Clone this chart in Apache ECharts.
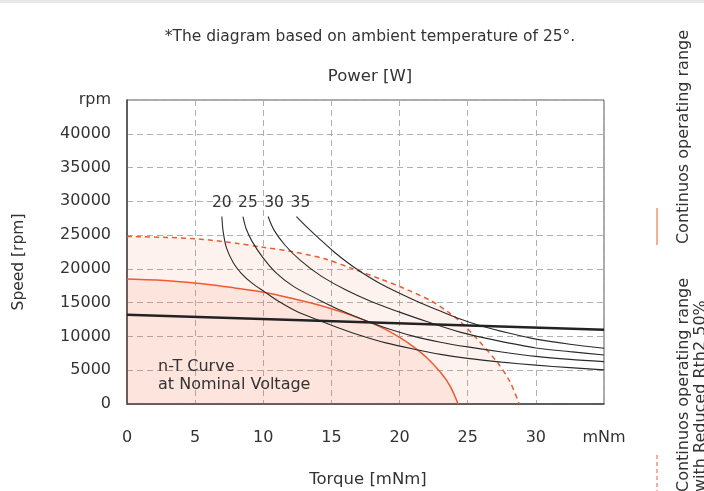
<!DOCTYPE html>
<html>
<head>
<meta charset="utf-8">
<script src="https://cdn.jsdelivr.net/npm/echarts@6/dist/echarts.min.js"></script>
<style>
html,body{margin:0;padding:0;background:#fff;}
#c{width:704px;height:491px;}
</style>
</head>
<body>
<div id="c"></div>
<script>
// ---- data ----
const xTickValues = [0, 5, 10, 15, 20, 25, 30, 35];
const xTickLabels = ['0', '5', '10', '15', '20', '25', '30', 'mNm'];
const yTickValues = [0, 5000, 10000, 15000, 20000, 25000, 30000, 35000, 40000, 45000];
const yTickLabels = ['0', '5000', '10000', '15000', '20000', '25000', '30000', '35000', '40000', 'rpm'];

// Continuous operating range with reduced Rth2 50% (dashed)
const reducedRange = [[0,24800],[3,24650],[5.4,24400],[8,23800],[10,23200],[12,22600],[14.5,21500],[16.6,20000],[18.6,18500],[20,17400],[22.3,15300],[23.5,13700],[24.4,12300],[25.7,9600],[27.2,6100],[28.1,3300],[28.78,0]];
// Continuous operating range (solid)
const nominalRange = [[0,18500],[3,18250],[6,17700],[8,17150],[10,16550],[12,15700],[14,14700],[16,13450],[18,11950],[19,11000],[20,9850],[21,8500],[22,6850],[23,4700],[23.7,2700],[24.3,0]];
// n-T curve at nominal voltage
const ntCurve = [[0,13200],[35,11000]];

// Constant power curves [W]
const powerLabels = ['20', '25', '30', '35'];
const power20 = [[6.96,27750],[7.05,25600],[7.3,23100],[7.8,20900],[8.4,19300],[9.2,17850],[10.1,16600],[11,15350],[12.5,13650],[14.2,12300],[15.7,11150],[17.2,10100],[19,9050],[21,8150],[23,7350],[25,6750],[27.5,6200],[30,5750],[32.5,5380],[35,5050]];
const power25 = [[8.51,27750],[8.75,25900],[9.2,24000],[10,21600],[11,19300],[12.3,17300],[14.2,15300],[15.8,13750],[17.5,12350],[19,11250],[21,10050],[23,9150],[25,8450],[27.5,7700],[30,7050],[32.5,6600],[35,6270]];
const power30 = [[10.35,27750],[10.8,25700],[11.6,23500],[12.7,21300],[14.2,19000],[16,16950],[18,15100],[20,13600],[22,12200],[24.5,10600],[27,9450],[30,8300],[32.5,7750],[35,7250]];
const power35 = [[12.43,27750],[13.3,26000],[14.2,24300],[15.2,22500],[16.2,20900],[17.2,19500],[18.6,17800],[20,16400],[21.5,15000],[23,13750],[24.5,12550],[26,11550],[28,10500],[30,9600],[32.5,8850],[35,8250]];
const powerCurves = [power20, power25, power30, power35];

// ---- chart ----
const FONT = 'DejaVu Sans';
const TXT = '#333';
const ORANGE = '#ef5a2f';
const labelShift = [0, 5, 6, 4];
const chart = echarts.init(document.getElementById('c'));

const powerSeries = powerCurves.map((pts, i) => ({
  type: 'line',
  smooth: 0.3,
  symbol: 'none',
  lineStyle: { color: '#2a2a2a', width: 1.1 },
  data: pts.map((p, j) => j === 0
    ? { value: p, symbol: 'circle', symbolSize: 0.1,
        label: { show: true, position: 'top', distance: 6, offset: [labelShift[i], 0], formatter: powerLabels[i],
                 fontFamily: FONT, fontSize: 15.5, color: TXT } }
    : p),
  z: 5
}));

chart.setOption({
  animation: false,
  grid: { left: 127, right: 100, top: 100, bottom: 87, show: true, borderColor: '#555', borderWidth: 1 },
  xAxis: {
    type: 'value', min: 0, max: 35, interval: 5,
    axisLine: { show: true, lineStyle: { color: '#444', width: 1.5 } },
    axisTick: { show: false },
    axisLabel: { margin: 26, fontFamily: FONT, fontSize: 16, color: TXT,
      formatter: v => xTickLabels[xTickValues.indexOf(v)] },
    splitLine: { show: true, lineStyle: { color: '#b0b0b0', type: [6, 4], width: 1 } }
  },
  yAxis: {
    type: 'value', min: 0, max: 45000, interval: 5000,
    axisLine: { show: true, lineStyle: { color: '#444', width: 1.5 } },
    axisTick: { show: false },
    axisLabel: { margin: 16, fontFamily: FONT, fontSize: 16, color: TXT,
      formatter: v => yTickLabels[yTickValues.indexOf(v)] },
    splitLine: { show: true, lineStyle: { color: '#b0b0b0', type: [6, 4], width: 1 } }
  },
  series: [
    { type: 'line', smooth: 0.3, symbol: 'none', data: reducedRange,
      lineStyle: { color: ORANGE, width: 1.5, type: [5, 4] },
      areaStyle: { color: 'rgba(240,90,47,0.11)' }, z: 2 },
    { type: 'line', smooth: 0.3, symbol: 'none', data: nominalRange,
      lineStyle: { color: ORANGE, width: 1.5 },
      areaStyle: { color: 'rgba(240,90,47,0.12)' }, z: 3 },
    ...powerSeries,
    { type: 'line', symbol: 'none', data: ntCurve,
      lineStyle: { color: '#222', width: 2.5 }, z: 6 }
  ],
  graphic: [
    { type: 'rect', shape: { x: 0, y: 0, width: 704, height: 3 }, style: { fill: '#e8e8e8' } },
    { type: 'text', x: 370, y: 37, style: { text: '*The diagram based on ambient temperature of 25°.', fontFamily: FONT, fontSize: 15.5, fill: TXT, align: 'center', verticalAlign: 'middle' } },
    { type: 'text', x: 370, y: 77, style: { text: 'Power [W]', fontFamily: FONT, fontSize: 16.5, fill: TXT, align: 'center', verticalAlign: 'middle' } },
    { type: 'text', x: 368, y: 480, style: { text: 'Torque [mNm]', fontFamily: FONT, fontSize: 16.5, fill: TXT, align: 'center', verticalAlign: 'middle' } },
    { type: 'text', x: 19, y: 262, rotation: Math.PI / 2, style: { text: 'Speed [rpm]', fontFamily: FONT, fontSize: 15.5, fill: TXT, align: 'center', verticalAlign: 'middle' } },
    { type: 'text', x: 158, y: 367, z: 10, style: { text: 'n-T Curve', fontFamily: FONT, fontSize: 16, fill: TXT, align: 'left', verticalAlign: 'middle' } },
    { type: 'text', x: 158, y: 385, z: 10, style: { text: 'at Nominal Voltage', fontFamily: FONT, fontSize: 16, fill: TXT, align: 'left', verticalAlign: 'middle' } },
    { type: 'line', shape: { x1: 657, y1: 208, x2: 657, y2: 245 }, style: { stroke: ORANGE, lineWidth: 1 } },
    { type: 'text', x: 684, y: 137, rotation: Math.PI / 2, style: { text: 'Continuos operating range', fontFamily: FONT, fontSize: 16, fill: TXT, align: 'center', verticalAlign: 'middle' } },
    { type: 'line', shape: { x1: 657, y1: 455, x2: 657, y2: 491 }, style: { stroke: ORANGE, lineWidth: 1, lineDash: [4, 3] } },
    { type: 'text', x: 684, y: 492, rotation: Math.PI / 2, style: { text: 'Continuos operating range', fontFamily: FONT, fontSize: 16, fill: TXT, align: 'left', verticalAlign: 'middle' } },
    { type: 'text', x: 701, y: 492, rotation: Math.PI / 2, style: { text: 'with Reduced Rth2 50%', fontFamily: FONT, fontSize: 16, fill: TXT, align: 'left', verticalAlign: 'middle' } }
  ]
});
</script>
</body>
</html>
